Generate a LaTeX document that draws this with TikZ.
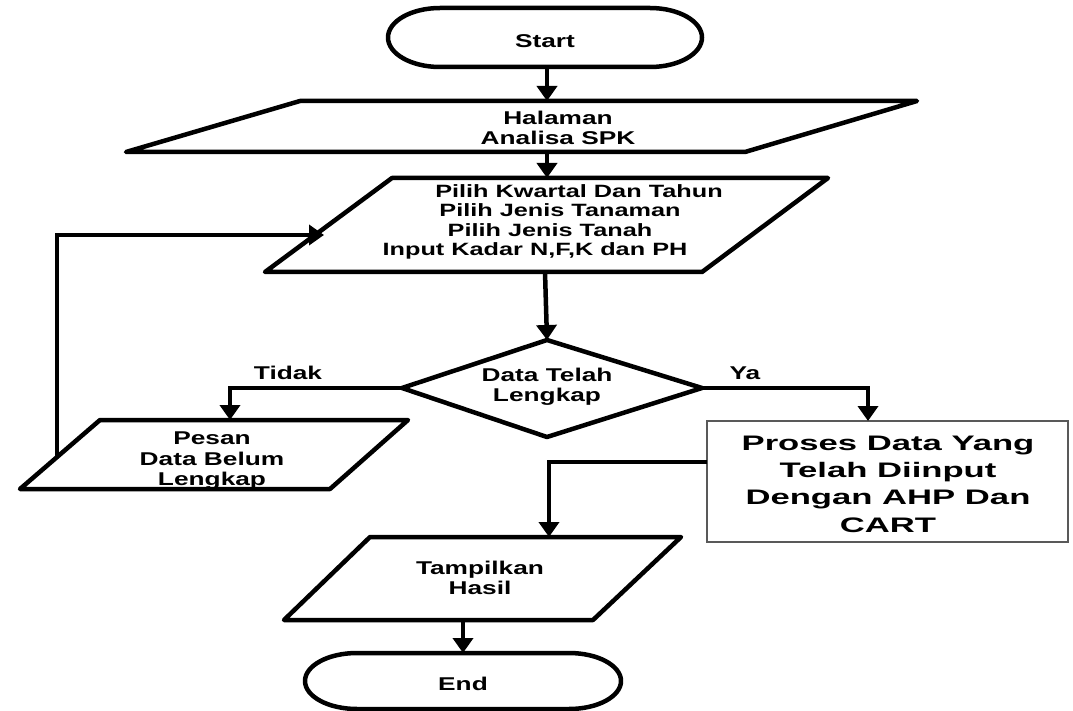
\documentclass[tikz,border=0pt]{standalone}
\usepackage{fontspec}
\setmainfont{Liberation Sans}
\newfontfamily\wb{Liberation Sans}[FakeStretch=1.42]
\newfontfamily\wc{Liberation Sans}[FakeStretch=1.65]
\usetikzlibrary{arrows.meta}
\tikzset{
  shp/.style={line width=4.5pt, line join=round, fill=white},
  conn/.style={line width=4.5pt, -{Triangle[width=20pt,length=15pt]}},
  txt/.style={font=\wb\bfseries\fontsize{18.5}{20.5}\selectfont, inner sep=0pt, align=center},
  ptxt/.style={font=\wb\bfseries\fontsize{17.8}{19}\selectfont, inner sep=0pt, align=center},
  bigtxt/.style={font=\wc\bfseries\fontsize{21}{27.3}\selectfont, inner sep=0pt, align=center},
}
\begin{document}
\begin{tikzpicture}[x=1pt,y=-1pt]
\useasboundingbox (0,0) rectangle (1073,711);
\fill[white] (0,0) rectangle (1073,711);

% Start terminal
\draw[shp] (440,8) -- (650,8) arc[start angle=-90,end angle=90,x radius=52,y radius=29.5]
  -- (440,67) arc[start angle=90,end angle=270,x radius=52,y radius=29.5] -- cycle;
\node[txt] (start) at (545,41) {Start};
\coordinate (startb) at (547,67);

% Halaman
\draw[shp] (300,101) -- (917,101) -- (745,152) -- (126,152) -- cycle;
\node[txt] (hal) at (558,128) {Halaman\\Analisa SPK};
\coordinate (halt) at (547,101);
\coordinate (halb) at (547,152);

% Pilih
\draw[shp] (392,178) -- (828,178) -- (702,272) -- (265,272) -- cycle;
\node[ptxt, anchor=base] (p1) at (579,198) {Pilih Kwartal Dan Tahun};
\node[ptxt, anchor=base] (p2) at (560,217) {Pilih Jenis Tanaman};
\node[ptxt, anchor=base] (p3) at (550,237) {Pilih Jenis Tanah};
\node[ptxt, anchor=base] (p4) at (535,256) {Input Kadar N,F,K dan PH};
\coordinate (pilt) at (547,178);
\coordinate (pilb) at (545,272);
\coordinate (pill) at (324,235);

% Decision
\draw[shp] (547,340) -- (702,388) -- (547,437) -- (402,388) -- cycle;
\node[txt] (dec) at (547,387) {Data Telah\\Lengkap};
\coordinate (dect) at (547,340);
\coordinate (decl) at (402,388);
\coordinate (decr) at (702,388);

% Pesan
\draw[shp] (100,420) -- (408,420) -- (330,489) -- (20,489) -- cycle;
\node[txt] (pesan) at (212,461) {Pesan\\Data Belum\\Lengkap};
\coordinate (pest) at (230,420);
\coordinate (pesl) at (57,457);

% Proses
\draw[line width=1.2pt, draw=gray!70!black, fill=white] (707,421) rectangle (1068,542);
\node[bigtxt] (proses) at (888,484) {Proses Data Yang\\Telah Diinput\\Dengan AHP Dan\\CART};
\coordinate (prot) at (868,421);
\coordinate (prol) at (707,462);

% Tampilkan
\draw[shp] (370,537) -- (681,537) -- (593,620) -- (284,620) -- cycle;
\node[txt] (tamp) at (480,578) {Tampilkan\\Hasil};
\coordinate (tampt) at (549,537);
\coordinate (tampb) at (463,620);

% End terminal
\draw[shp] (357,653) -- (569,653) arc[start angle=-90,end angle=90,x radius=52,y radius=28]
  -- (357,709) arc[start angle=90,end angle=270,x radius=52,y radius=28] -- cycle;
\node[txt] (end) at (463,684) {End};
\coordinate (endt) at (463,653);

% Connectors
\draw[conn] (startb) -- (halt);
\draw[conn] (halb) -- (pilt);
\draw[conn] (pilb) -- (dect);
\draw[conn] (decl) -| (pest);
\draw[conn] (decr) -| (prot);
\draw[conn] (pesl) |- (pill);
\draw[conn] (prol) -| (tampt);
\draw[conn] (tampb) -- (endt);

\node[txt] (tidak) at (288,373) {Tidak};
\node[txt] (ya) at (745,373) {Ya};
\end{tikzpicture}
\end{document}
